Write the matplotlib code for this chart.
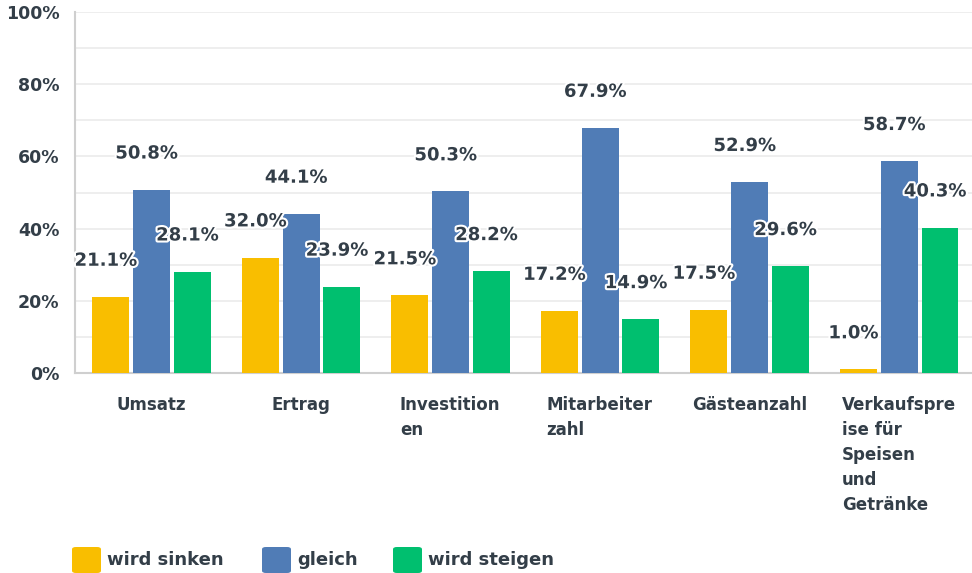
import matplotlib
matplotlib.use('Agg')
import matplotlib.pyplot as plt
import matplotlib.patches as mp
import matplotlib.patheffects as pe
import numpy as np

categories = ['Umsatz', 'Ertrag', 'Investition\nen', 'Mitarbeiter\nzahl',
              'Gästeanzahl', 'Verkaufspre\nise für\nSpeisen\nund\nGetränke']
series_names = ['wird sinken', 'gleich', 'wird steigen']
sinken = [21.1, 32.0, 21.5, 17.2, 17.5, 1.0]
gleich = [50.8, 44.1, 50.3, 67.9, 52.9, 58.7]
steigen = [28.1, 23.9, 28.2, 14.9, 29.6, 40.3]
yticks = [0, 20, 40, 60, 80, 100]

COLORS = ['#F9BE00', '#507CB6', '#00BF6F']
TXT = '#333E48'
GRID = '#EBEBEB'
SPINE = '#CFCFCF'

plt.rcParams['font.family'] = ['DejaVu Sans']

fig = plt.figure(figsize=(9.72, 5.73), dpi=100)
ax = fig.add_axes([0.077, 0.349, 0.923, 0.63])

x = np.arange(len(categories))
bw = 0.247
step = 0.273
for i, (vals, c) in enumerate(zip([sinken, gleich, steigen], COLORS)):
    xs = x + (i - 1) * step
    ax.bar(xs + 0.013, vals, width=bw, color=c, zorder=3)
    for xi, v in zip(xs, vals):
        ax.text(xi - 0.02, v + 10, f'{v:.1f}%', ha='center', va='center',
                fontsize=13, fontweight='bold', color=TXT, zorder=5,
                path_effects=[pe.withStroke(linewidth=3, foreground='white')])

ax.set_xlim(-0.5, len(categories) - 0.5)
ax.set_ylim(0, 100)
ax.set_yticks(yticks)
ax.set_yticklabels([f'{t}%' for t in yticks], fontsize=12.5,
                   fontweight='bold', color=TXT)
ax.set_yticks(np.arange(0, 101, 10), minor=True)
ax.grid(axis='y', which='both', color=GRID, lw=1.2, zorder=0)
ax.tick_params(axis='y', which='both', length=0, pad=11)
ax.tick_params(axis='x', length=0)
ax.set_xticks(x)
ax.set_xticklabels([])
for xi, lab in zip(x, categories):
    ax.text(xi + 0.01, -6.5, lab, ha='center', va='top', multialignment='left',
            fontsize=12, fontweight='bold', color=TXT, linespacing=1.5,
            transform=ax.transData, clip_on=False)

for s in ['top', 'right']:
    ax.spines[s].set_visible(False)
for s in ['left', 'bottom']:
    ax.spines[s].set_color(SPINE)
    ax.spines[s].set_linewidth(1.5)

# legend at bottom
lx = [72, 262, 393]
for px, name, c in zip(lx, series_names, COLORS):
    fig.patches.append(mp.FancyBboxPatch((px / 972, 0), 29 / 972, 26 / 573,
                       boxstyle='round,pad=0,rounding_size=0.004',
                       transform=fig.transFigure, fc=c, ec='none'))
    fig.text((px + 35) / 972, 13 / 573, name, ha='left', va='center',
             fontsize=13, fontweight='bold', color=TXT)

fig.savefig('out.png', dpi=100)
